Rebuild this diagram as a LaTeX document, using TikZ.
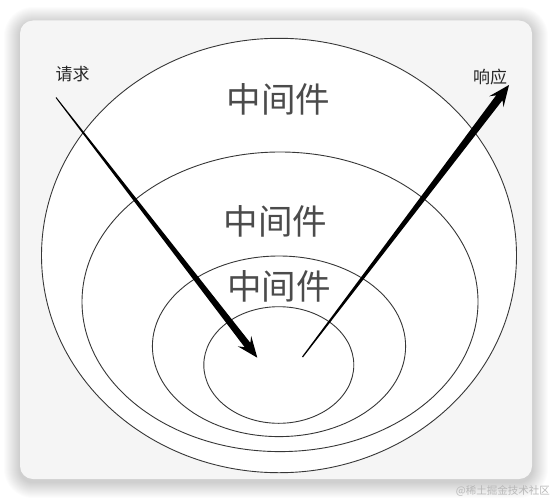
\documentclass[tikz,border=0pt]{standalone}
\usepackage{fontspec}
\newfontfamily\cjk{Noto Sans CJK SC}
\usetikzlibrary{calc}
\definecolor{cardbg}{RGB}{245,245,245}
\definecolor{ringline}{RGB}{55,55,55}
\definecolor{txtcol}{RGB}{75,75,75}
\tikzset{
  ring/.style={draw=ringline, line width=0.9pt},
  bigtxt/.style={inner sep=0pt, text=txtcol, font=\cjk\fontsize{34.5}{34.5}\selectfont},
  smalltxt/.style={inner sep=0pt, text=black!85, font=\cjk\fontsize{17}{17}\selectfont},
  wmtxt/.style={inner sep=0pt, text=black!28, font=\cjk\fontsize{10.5}{10.5}\selectfont},
  arrowfill/.style={fill=black}
}
\begin{document}
\begin{tikzpicture}[x=1pt,y=-1pt]
\useasboundingbox (0,0) rectangle (553,500);
\fill[white] (0,0) rectangle (553,500);
% shadow
\foreach \i [evaluate=\i as \r using 13+\i] in {1,...,16}{
  \fill[black, opacity=0.011, rounded corners=\r pt] (20-\i,20-\i+3) rectangle (532+\i,479+\i+3);
}
% card
\fill[cardbg, rounded corners=13pt] (20,20.5) rectangle (532,479);
% rings
\fill[white] (279,255.5) ellipse [x radius=237.5, y radius=217.2];
\draw[ring] (279,255.5) ellipse [x radius=237.5, y radius=217.2];
\draw[ring] (280,301.8) ellipse [x radius=198, y radius=149.8];
\draw[ring] (279,346.3) ellipse [x radius=126.6, y radius=90.3];
\draw[ring] (278.8,365) ellipse [x radius=75, y radius=58.3];
% texts
\node[bigtxt] (mw1) at (278.5,99) {中间件};
\node[bigtxt] (mw2) at (275.5,221) {中间件};
\node[bigtxt] (mw3) at (278.8,286) {中间件};
\node[smalltxt] (req) at (72.5,74.5) {请求};
\node[smalltxt] (resp) at (490,77.5) {响应};
\node[wmtxt, anchor=east] (wm) at (550,491) {@稀土掘金技术社区};
% request arrow
\coordinate (rqS) at (56,97.5);
\coordinate (rqT) at (257.3,357.7);
\coordinate (rqB) at ($(rqT)!16pt!(rqS)$);
\coordinate (rqW) at ($(rqT)!21pt!(rqS)$);
\fill[arrowfill] ($(rqS)!0.5pt!90:(rqT)$) -- ($(rqB)!3.6pt!-90:(rqS)$) -- ($(rqW)!8.5pt!-90:(rqS)$) -- (rqT)
  -- ($(rqW)!8.5pt!90:(rqS)$) -- ($(rqB)!3.6pt!90:(rqS)$) -- ($(rqS)!0.5pt!-90:(rqT)$) -- cycle;
% response arrow
\coordinate (rsS) at (302.5,357);
\coordinate (rsT) at (509,85);
\coordinate (rsB) at ($(rsT)!16pt!(rsS)$);
\coordinate (rsW) at ($(rsT)!21pt!(rsS)$);
\fill[arrowfill] ($(rsS)!0.6pt!90:(rsT)$) -- ($(rsB)!4pt!-90:(rsS)$) -- ($(rsW)!9pt!-90:(rsS)$) -- (rsT)
  -- ($(rsW)!9pt!90:(rsS)$) -- ($(rsB)!4pt!90:(rsS)$) -- ($(rsS)!0.6pt!-90:(rsT)$) -- cycle;
\end{tikzpicture}
\end{document}
